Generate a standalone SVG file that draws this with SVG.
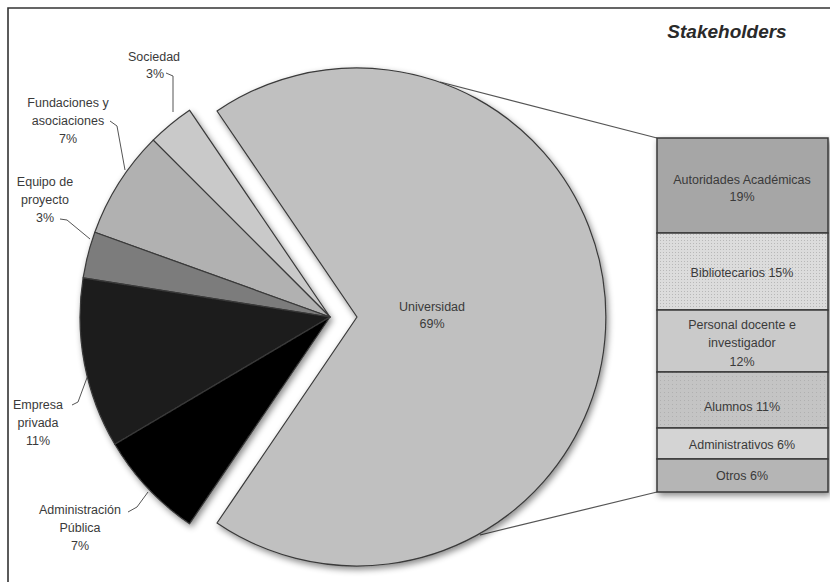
<svg xmlns="http://www.w3.org/2000/svg" width="830" height="582" viewBox="0 0 830 582">
<style>
.lbl{font-family:"Liberation Sans",Arial,sans-serif;font-size:12.5px;fill:#3a3a3a;text-anchor:middle}
.slice{stroke:#3a3a3a;stroke-width:1.2;stroke-linejoin:round}
.seg{stroke:#3a3a3a;stroke-width:1.5}
.lead{fill:none;stroke:#555;stroke-width:1}
.conn{fill:none;stroke:#555;stroke-width:1.2}
.title{font-family:"Liberation Sans",Arial,sans-serif;font-size:19px;font-weight:bold;font-style:italic;fill:#2a2a2a;text-anchor:middle}
</style>
<defs>
<filter id="sh" x="-20%" y="-20%" width="140%" height="140%">
<feDropShadow dx="2" dy="3" stdDeviation="3" flood-color="#000" flood-opacity="0.45"/>
</filter>
<pattern id="grid" width="3" height="3" patternUnits="userSpaceOnUse">
<rect width="3" height="3" fill="#dcdcdc"/>
<rect width="1" height="1" fill="#b8b8b8"/>
</pattern>
<pattern id="dots" width="4" height="4" patternUnits="userSpaceOnUse">
<rect width="4" height="4" fill="#c4c4c4"/>
<rect width="1" height="1" fill="#b0b0b0"/>
</pattern>
</defs>
<rect width="830" height="582" fill="#fff"/>
<path d="M8,582 V8 H830" fill="none" stroke="#333" stroke-width="1.6"/>
<text class="title" x="727" y="38">Stakeholders</text>

<g id="connectors">
<line class="conn" x1="440" y1="82" x2="657" y2="138"/>
<line class="conn" x1="480" y1="535" x2="657" y2="492"/>
<polyline class="lead" points="166,73 173,76 173,112"/>
<polyline class="lead" points="110,121 117,126 125,170"/>
<polyline class="lead" points="60,219 67,220 90,239"/>
<polyline class="lead" points="72,405 78,402 88,375"/>
<polyline class="lead" points="128,512 137,507 148,492"/>
</g>

<g id="pie" filter="url(#sh)">
<g id="universidad"><path class="slice" fill="#c0c0c0" d="M357,317 L217,111 A249,249 0 1 1 217,523 Z"/></g>
<g id="sociedad"><path class="slice" fill="#c9c9c9" d="M330,317 L189.5,110.2 A250,250 0 0 0 153.2,140.2 Z"/></g>
<g id="fundaciones"><path class="slice" fill="#b1b1b1" d="M330,317 L153.2,140.2 A250,250 0 0 0 94.8,232.3 Z"/></g>
<g id="equipo"><path class="slice" fill="#7c7c7c" d="M330,317 L94.8,232.3 A250,250 0 0 0 83.1,277.9 Z"/></g>
<g id="empresa"><path class="slice" fill="#1e1e1e" d="M330,317 L83.1,277.9 A250,250 0 0 0 114.8,444.3 Z"/></g>
<g id="administracion"><path class="slice" fill="#050505" d="M330,317 L114.8,444.3 A250,250 0 0 0 189.5,523.8 Z"/></g>
</g>

<g id="labels-pie">
<text class="lbl" x="432" y="311">Universidad</text>
<text class="lbl" x="432" y="328">69%</text>
<text class="lbl" x="154" y="61">Sociedad</text>
<text class="lbl" x="155" y="78">3%</text>
<text class="lbl" x="68" y="107">Fundaciones y</text>
<text class="lbl" x="68" y="125">asociaciones</text>
<text class="lbl" x="68" y="143">7%</text>
<text class="lbl" x="45" y="186">Equipo de</text>
<text class="lbl" x="45" y="204">proyecto</text>
<text class="lbl" x="45" y="222">3%</text>
<text class="lbl" x="38" y="409">Empresa</text>
<text class="lbl" x="38" y="427">privada</text>
<text class="lbl" x="38" y="445">11%</text>
<text class="lbl" x="80" y="514">Administración</text>
<text class="lbl" x="80" y="532">Pública</text>
<text class="lbl" x="80" y="550">7%</text>
</g>

<g id="bar" filter="url(#sh)">
<g id="autoridades"><rect class="seg" x="657" y="138" width="171" height="95" fill="#a6a6a6"/></g>
<g id="bibliotecarios"><rect class="seg" x="657" y="233" width="171" height="77" fill="url(#grid)"/></g>
<g id="personal"><rect class="seg" x="657" y="310" width="171" height="62" fill="#cacaca"/></g>
<g id="alumnos"><rect class="seg" x="657" y="372" width="171" height="56" fill="url(#dots)"/></g>
<g id="administrativos"><rect class="seg" x="657" y="428" width="171" height="31" fill="#d4d4d4"/></g>
<g id="otros"><rect class="seg" x="657" y="459" width="171" height="33" fill="#b5b5b5"/></g>
</g>

<g id="labels-bar">
<text class="lbl" x="742" y="184">Autoridades Académicas</text>
<text class="lbl" x="742" y="201">19%</text>
<text class="lbl" x="742" y="277">Bibliotecarios 15%</text>
<text class="lbl" x="742" y="329">Personal docente e</text>
<text class="lbl" x="742" y="347">investigador</text>
<text class="lbl" x="742" y="366">12%</text>
<text class="lbl" x="742" y="411">Alumnos 11%</text>
<text class="lbl" x="742" y="449">Administrativos 6%</text>
<text class="lbl" x="742" y="480">Otros 6%</text>
</g>
</svg>
